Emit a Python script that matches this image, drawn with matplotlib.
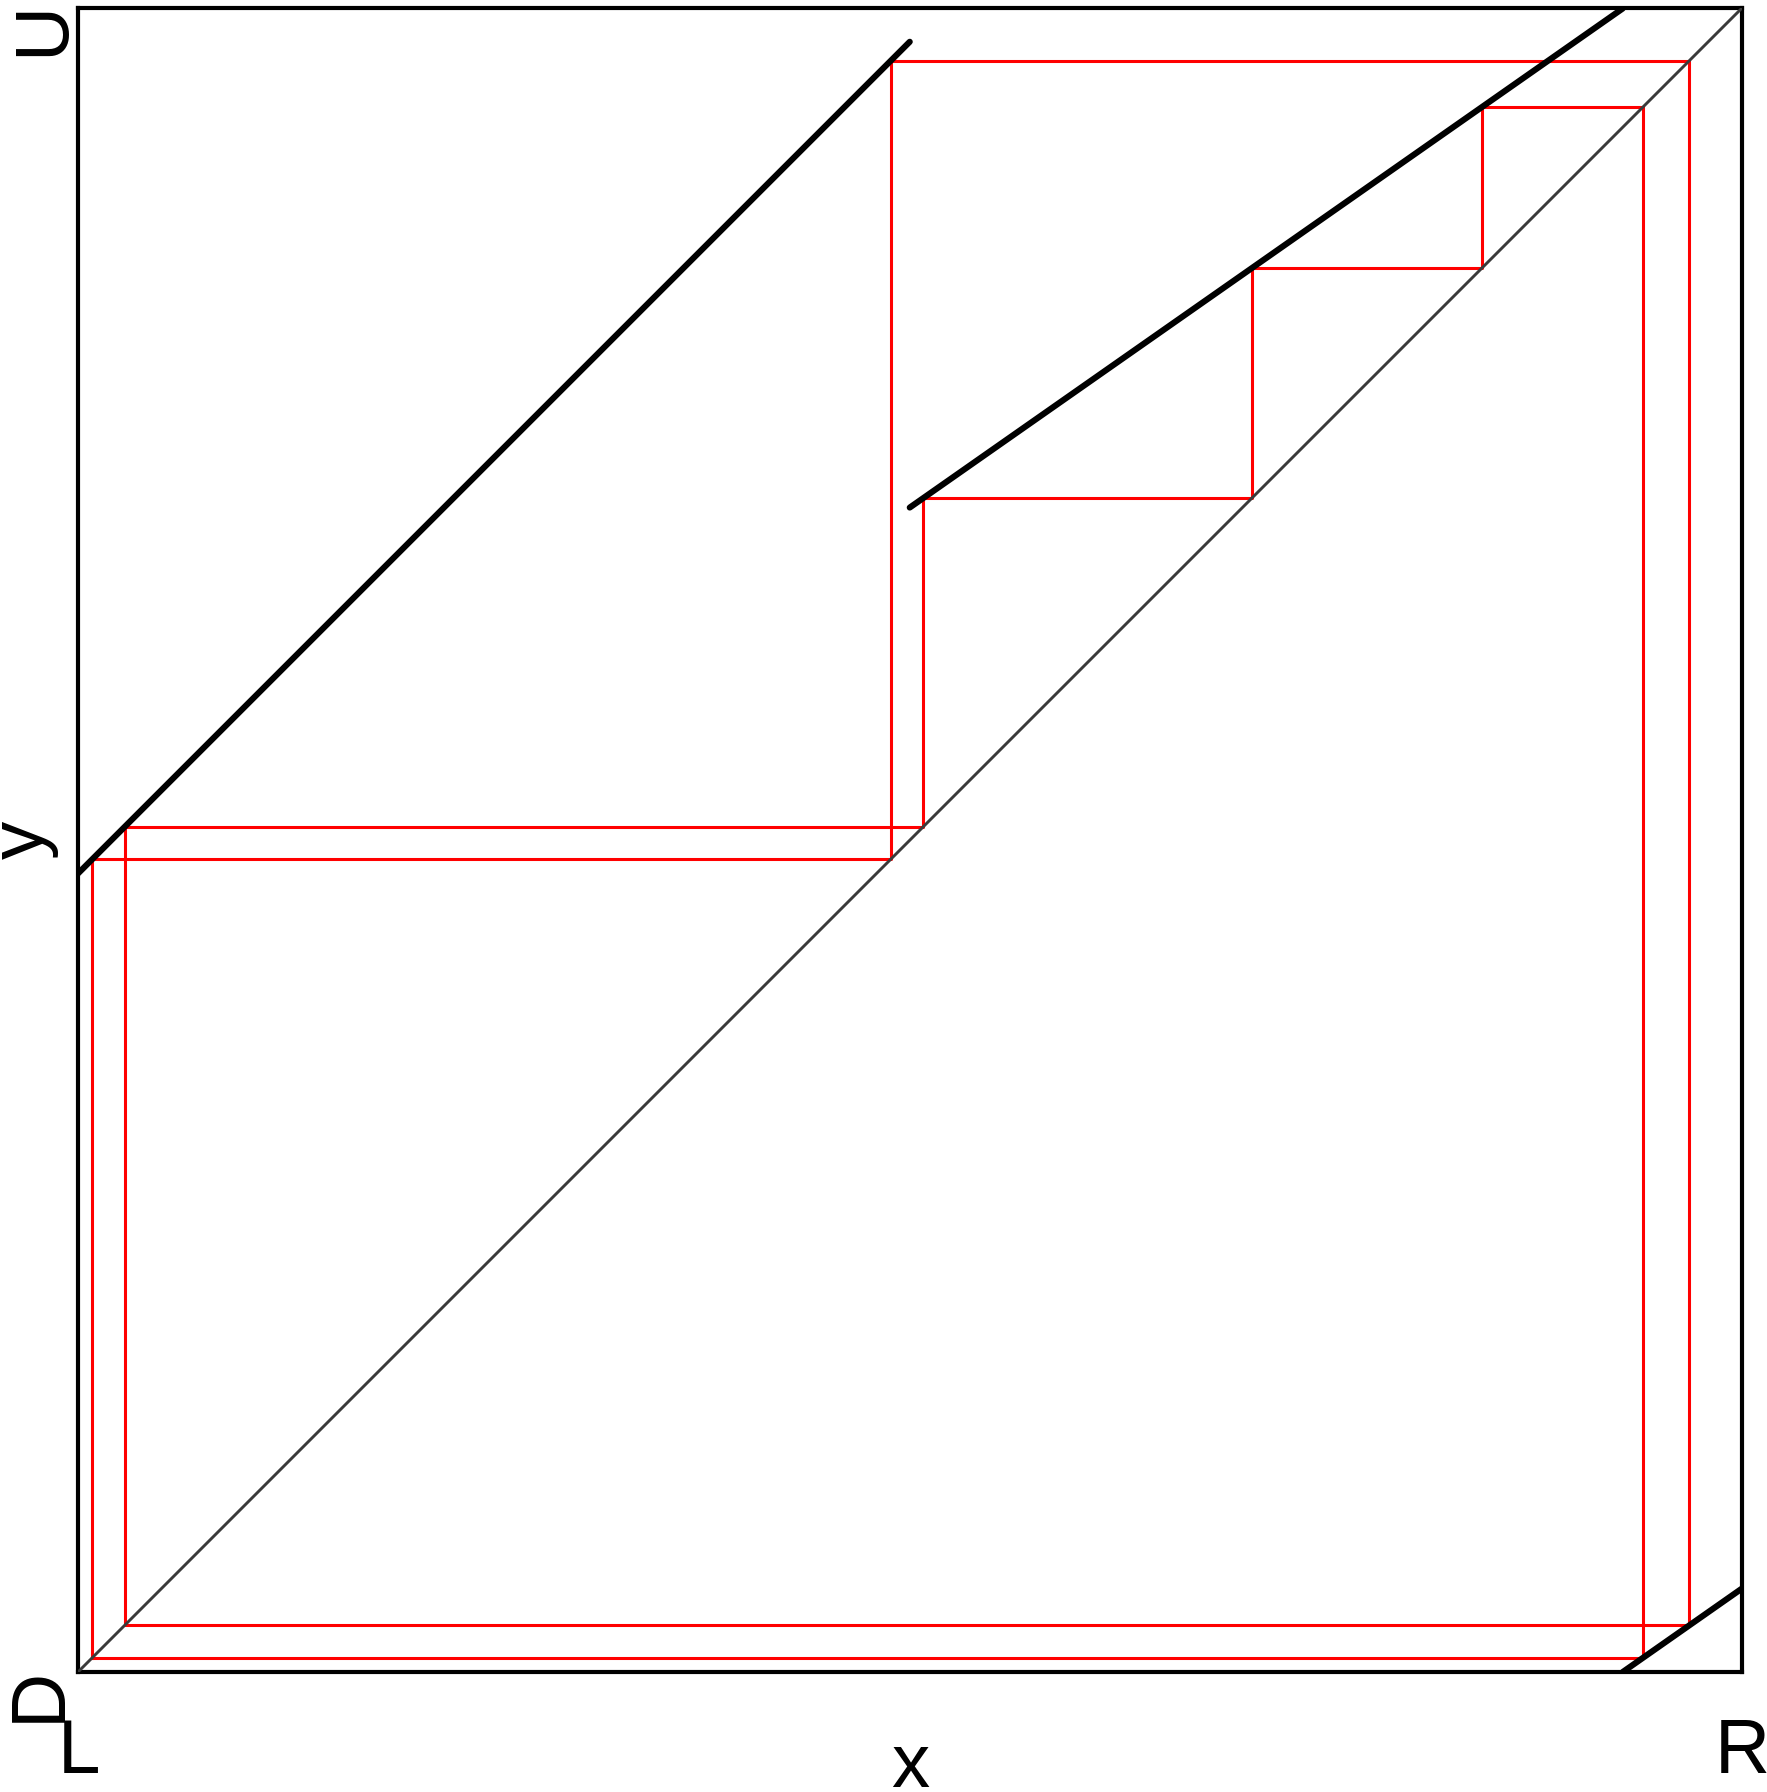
import matplotlib
matplotlib.use("Agg")
import matplotlib.pyplot as plt

plt.rcParams['font.family'] = ['Liberation Sans', 'DejaVu Sans']

# map branches (endpoints)
left_x = [0.0, 0.5]
left_y = [0.48, 0.98]
right_x = [0.5, 0.9286]
right_y = [0.70, 1.0]
wrap_x = [0.9286, 1.0]
wrap_y = [0.0, 0.05]

# periodic orbit used for the cobweb
orbit = [0.0085, 0.4885, 0.9685, 0.0280, 0.5080, 0.7056, 0.8439, 0.9407]

W, H = 1767, 1792
fig = plt.figure(figsize=(W / 100, H / 100), dpi=100)
ax = fig.add_axes([78 / W, 1 - 1672 / H, 1663.5 / W, 1663.5 / H])
ax.set_xlim(0, 1)
ax.set_ylim(0, 1)
ax.set_xticks([])
ax.set_yticks([])
for s in ax.spines.values():
    s.set_linewidth(3.0)

# cobweb
cx, cy = [], []
pts = orbit + [orbit[0]]
for a, b in zip(pts[:-1], pts[1:]):
    cx += [a, a, b]
    cy += [a, b, b]
ax.plot(cx, cy, color='#ff0000', lw=2.2, zorder=2)

# diagonal
ax.plot([0, 1], [0, 1], color='#3a3a3a', lw=2.1, zorder=3)

# branches
for bx, by in [(left_x, left_y), (right_x, right_y), (wrap_x, wrap_y)]:
    ax.plot(bx, by, color='black', lw=4.4, solid_capstyle='round', zorder=4)

fs = 55


def ftext(px, py, s, **kw):
    fig.text(px / W, 1 - py / H, s, fontsize=fs, **kw)


ftext(79, 1773, 'L', ha='center', va='baseline')
ftext(1742, 1773, 'R', ha='center', va='baseline')
ftext(910, 1787, 'x', ha='center', va='baseline')
ftext(43, 840, 'y', ha='center', va='baseline', rotation=90, rotation_mode='anchor')
ftext(63, 28, 'U', ha='center', va='baseline', rotation=90, rotation_mode='anchor')
ftext(60, 1694, 'D', ha='center', va='baseline', rotation=90, rotation_mode='anchor')

fig.savefig('out.png', dpi=100)
